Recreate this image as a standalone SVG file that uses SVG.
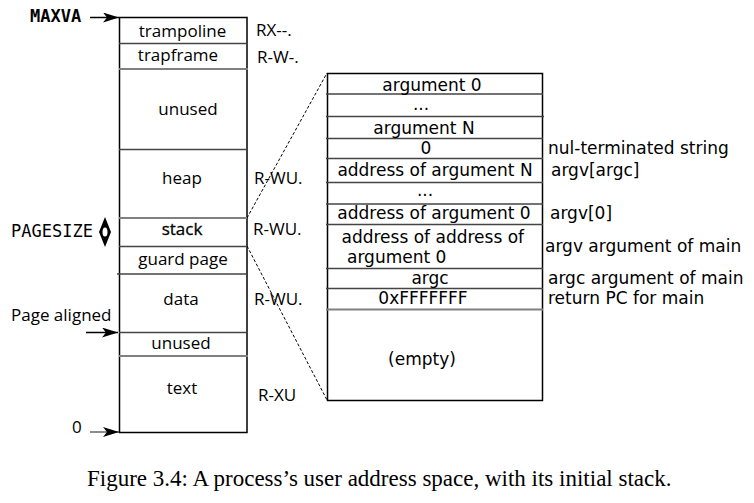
<svg xmlns="http://www.w3.org/2000/svg" width="754" height="503" viewBox="0 0 754 503">
<style>
.l{font-family:"Open Sans","Noto Sans",sans-serif;font-size:17px;fill:#000}
.r{font-family:"DejaVu Sans",sans-serif;font-size:17px;fill:#000}
.m{font-family:"DejaVu Sans Mono",monospace;font-size:17px;fill:#000}
.c{text-anchor:middle}
.box{fill:#fff;stroke:#000;stroke-width:1.5}
.dv{stroke:#444;stroke-width:1.5}
.dg{stroke:#808080;stroke-width:2}
.dash{stroke:#000;stroke-width:1;stroke-dasharray:3,2;fill:none}
.arr{stroke:#000;stroke-width:1.5;fill:none;marker-end:url(#ah)}
</style>
<defs>
<marker id="ah" viewBox="0 0 16 10" refX="16" refY="5" markerWidth="16" markerHeight="10" markerUnits="userSpaceOnUse" orient="auto">
<path d="M0,0 L16,5 L0,10 L4,5 Z" fill="#000"/>
</marker>
</defs>
<rect width="754" height="503" fill="#fff"/>

<g id="connectors">
<line class="arr" x1="90" y1="17.5" x2="119" y2="17.5"/>
<line class="arr" x1="86" y1="332.5" x2="118" y2="332.5"/>
<line class="arr" x1="90" y1="432" x2="119" y2="432" style="stroke:#666"/>
<line class="dash" x1="247" y1="218" x2="327" y2="73"/>
<line class="dash" x1="247" y1="246" x2="327" y2="400"/>
</g>

<g id="labels-left">
<text class="m" x="30" y="22" style="font-weight:bold">MAXVA</text>
<text class="m" x="11" y="237">PAGESIZE</text>
<text class="l" x="11" y="321">Page aligned</text>
<text class="l" x="72" y="433">0</text>
</g>

<g id="pagesize-arrow">
<polygon points="105,217 111,232 105,247 99,232" fill="#000"/>
<ellipse cx="105" cy="232" rx="2.5" ry="4.5" fill="#fff"/>
</g>

<g id="address-space">
<rect class="box" x="119.5" y="17.5" width="127.5" height="415"/>
<line class="dv" x1="119" y1="43.5" x2="247" y2="43.5"/>
<line class="dg" x1="119" y1="69" x2="248" y2="69"/>
<line class="dv" x1="119" y1="149.5" x2="248" y2="149.5"/>
<line class="dg" x1="119" y1="218" x2="247" y2="218"/>
<line class="dv" x1="119" y1="246.5" x2="247" y2="246.5"/>
<line class="dv" x1="117" y1="274" x2="246" y2="274"/>
<line class="dv" x1="119" y1="332.5" x2="247" y2="332.5"/>
<line class="dg" x1="119" y1="356" x2="248" y2="356"/>
</g>

<g id="trampoline"><text class="l c" x="182.5" y="37">trampoline</text><text class="l" x="256" y="36">RX--.</text></g>
<g id="trapframe"><text class="l c" x="178" y="61">trapframe</text><text class="l" x="257" y="63">R-W-.</text></g>
<g id="unused-top"><text class="l c" x="188" y="115">unused</text></g>
<g id="heap"><text class="l c" x="182" y="184">heap</text><text class="l" x="254" y="184">R-WU.</text></g>
<g id="stack"><text class="l c" x="182" y="235" style="font-weight:500;stroke:#000;stroke-width:0.3">stack</text><text class="l" x="253" y="235">R-WU.</text></g>
<g id="guard-page"><text class="l c" x="183" y="265">guard page</text></g>
<g id="data"><text class="l c" x="181" y="305">data</text><text class="l" x="254" y="305">R-WU.</text></g>
<g id="unused-bottom"><text class="l c" x="181" y="349">unused</text></g>
<g id="text-seg"><text class="l c" x="182" y="394">text</text><text class="l" x="258" y="401">R-XU</text></g>

<g id="stack-detail">
<rect class="box" x="327.5" y="73.5" width="215" height="327"/>
<line class="dv" x1="326" y1="94" x2="543" y2="94"/>
<line class="dv" x1="326" y1="116.5" x2="544" y2="116.5"/>
<line class="dv" x1="326" y1="138.5" x2="543" y2="138.5"/>
<line class="dv" x1="326" y1="158.5" x2="543" y2="158.5"/>
<line class="dv" x1="326" y1="182.5" x2="543" y2="182.5"/>
<line class="dv" x1="326" y1="204" x2="543" y2="204"/>
<line class="dv" x1="326" y1="224.5" x2="543" y2="224.5"/>
<line class="dv" x1="326" y1="268.5" x2="543" y2="268.5"/>
<line class="dv" x1="326" y1="288.5" x2="543" y2="288.5"/>
<line class="dg" x1="326" y1="309.5" x2="543" y2="309.5"/>
</g>

<g id="slot-arg0"><text class="r c" x="432" y="91">argument 0</text></g>
<g id="slot-dots1"><text class="r c" x="421" y="110">...</text></g>
<g id="slot-argN"><text class="r c" x="424" y="134">argument N</text></g>
<g id="slot-zero"><text class="r c" x="426" y="154">0</text><text class="r" x="548" y="154">nul-terminated string</text></g>
<g id="slot-addrN"><text class="r c" x="435" y="176">address of argument N</text><text class="r" x="551" y="176">argv[argc]</text></g>
<g id="slot-dots2"><text class="r c" x="425" y="196">...</text></g>
<g id="slot-addr0"><text class="r c" x="434" y="219">address of argument 0</text><text class="r" x="550" y="219">argv[0]</text></g>
<g id="slot-argv"><text class="r" x="341.5" y="243">address of address of</text><text class="r" x="347" y="263">argument 0</text><text class="r" x="545" y="252">argv argument of main</text></g>
<g id="slot-argc"><text class="r c" x="430" y="284">argc</text><text class="r" x="548" y="284">argc argument of main</text></g>
<g id="slot-pc"><text class="r c" x="423" y="304">0xFFFFFFF</text><text class="r" x="548" y="304">return PC for main</text></g>
<g id="slot-empty"><text class="r c" x="422" y="365">(empty)</text></g>

<text x="87" y="486" style="font-family:'Liberation Serif',serif;font-size:23px">Figure 3.4: A process’s user address space, with its initial stack.</text>
</svg>
